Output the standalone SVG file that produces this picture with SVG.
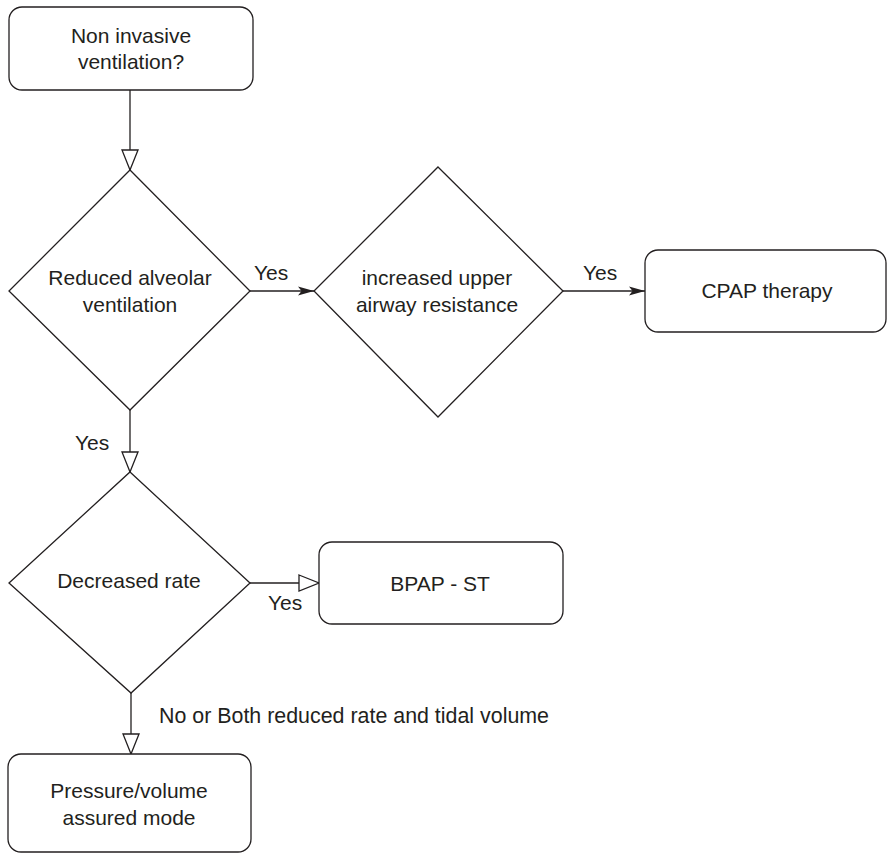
<svg xmlns="http://www.w3.org/2000/svg" width="887" height="854" viewBox="0 0 887 854">
<style>
  .box { fill: #ffffff; stroke: #231f20; stroke-width: 1.3; }
  .edge { fill: none; stroke: #231f20; stroke-width: 1.3; }
  text { font-family: "Liberation Sans", Arial, sans-serif; font-size: 21px; fill: #231f20; }
  .c { text-anchor: middle; }
</style>
<defs>
  <marker id="hollow" viewBox="0 0 20 17" refX="20" refY="8.5" markerWidth="20" markerHeight="17" markerUnits="userSpaceOnUse" orient="auto" overflow="visible">
    <path d="M0,0.5 L20,8.5 L0,16.5 Z" fill="#ffffff" stroke="#231f20" stroke-width="1.3"/>
  </marker>
  <marker id="filled" viewBox="0 0 16 9" refX="16" refY="4.5" markerWidth="16" markerHeight="9" markerUnits="userSpaceOnUse" orient="auto" overflow="visible">
    <path d="M0,0 L16,4.5 L0,9 L3.5,4.5 Z" fill="#231f20"/>
  </marker>
</defs>
<rect width="887" height="854" fill="#ffffff"/>

<g id="connectors">
  <path class="edge" d="M130,90 V170" marker-end="url(#hollow)"/>
  <path class="edge" d="M250,291 H314" marker-end="url(#filled)"/>
  <path class="edge" d="M563,291 H645" marker-end="url(#filled)"/>
  <path class="edge" d="M130,410 V472" marker-end="url(#hollow)"/>
  <path class="edge" d="M250,583 H319" marker-end="url(#hollow)"/>
  <path class="edge" d="M131,693 V754" marker-end="url(#hollow)"/>
  <text x="254" y="280">Yes</text>
  <text x="583" y="280">Yes</text>
  <text x="75" y="450">Yes</text>
  <text x="268" y="610">Yes</text>
  <text x="159" y="723" style="font-size:21.4px">No or Both reduced rate and tidal volume</text>
</g>

<g id="node-niv">
  <rect class="box" x="9" y="7" width="244" height="83" rx="13"/>
  <text class="c" x="131" y="43">Non invasive</text>
  <text class="c" x="131" y="69">ventilation?</text>
</g>

<g id="node-reduced-alveolar">
  <polygon class="box" points="130,170 250,291 130,410 9,291"/>
  <text class="c" x="130" y="285">Reduced alveolar</text>
  <text class="c" x="130" y="312">ventilation</text>
</g>

<g id="node-upper-airway">
  <polygon class="box" points="438,167 563,291 438,417 314,291"/>
  <text class="c" x="437" y="285">increased upper</text>
  <text class="c" x="437" y="312">airway resistance</text>
</g>

<g id="node-cpap">
  <rect class="box" x="645" y="250" width="241" height="82" rx="13"/>
  <text class="c" x="767" y="298">CPAP therapy</text>
</g>

<g id="node-decreased-rate">
  <polygon class="box" points="130,472 250,583 131,693 9,583"/>
  <text class="c" x="129" y="588">Decreased rate</text>
</g>

<g id="node-bpap">
  <rect class="box" x="319" y="542" width="244" height="82" rx="13"/>
  <text class="c" x="440" y="591">BPAP - ST</text>
</g>

<g id="node-pressure-volume">
  <rect class="box" x="8" y="754" width="243" height="98" rx="13"/>
  <text class="c" x="129" y="798">Pressure/volume</text>
  <text class="c" x="129" y="825">assured mode</text>
</g>
</svg>
